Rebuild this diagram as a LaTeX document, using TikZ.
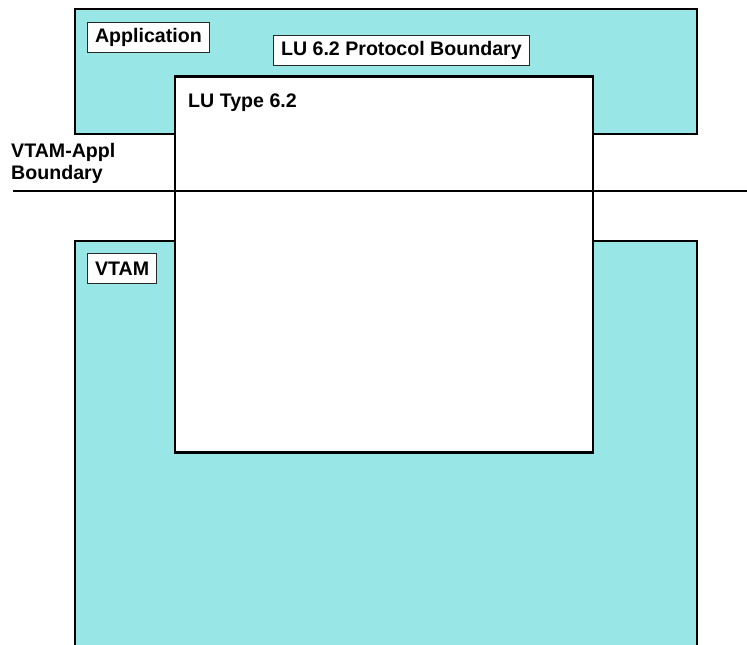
\documentclass[tikz,border=0pt]{standalone}
\usepackage{fontspec}
\setmainfont{Liberation Sans}
\definecolor{cyanfill}{RGB}{152,230,230}
\definecolor{labeledge}{RGB}{40,40,40}
\begin{document}
\begin{tikzpicture}[x=1pt,y=-1pt,
  bigbox/.style={draw=black,line width=2.6pt,minimum width=#1},
  tag/.style={draw=labeledge,fill=white,line width=1.1pt,inner xsep=7.5pt,inner ysep=0pt,minimum height=30pt,font=\fontsize{19.6}{22}\selectfont\bfseries},
  plain/.style={inner sep=0pt,font=\fontsize{19.6}{22}\selectfont\bfseries}]
\useasboundingbox (0,0) rectangle (747,645);
% Application box
\node[bigbox=622pt,fill=cyanfill,minimum height=125pt] (app) at (386,71.5) {};
% VTAM box (runs off the bottom)
\fill[cyanfill] (75,241) rectangle (697,645);
\coordinate (vbl) at (75,646);
\coordinate (vbr) at (697,646);
\coordinate (vtl) at (75,241);
\coordinate (vtr) at (697,241);
\draw[line width=2.6pt,line join=miter] (vbl) -- (vtl) -- (vtr) -- (vbr);
% LU box
\node[bigbox=418pt,fill=white,minimum height=376pt] (lu) at (384,264.5) {};
% VTAM-Appl boundary line
\coordinate (bl) at (13,191);
\coordinate (br) at (747,191);
\draw[line width=2pt] (bl) -- (br);
% labels
\node[tag,anchor=north west] (applabel) at (87,22) {Application};
\node[tag,anchor=north west] (protlabel) at (273,35) {LU 6.2 Protocol Boundary};
\node[tag,anchor=north west] (vtamlabel) at (87,253) {VTAM};
\node[plain,anchor=base west] (lutype) at (188,107) {LU Type 6.2};
\node[plain,anchor=base west] (bnd1) at (11,157) {VTAM-Appl};
\node[plain,anchor=base west] (bnd2) at (11,179) {Boundary};
\end{tikzpicture}
\end{document}
